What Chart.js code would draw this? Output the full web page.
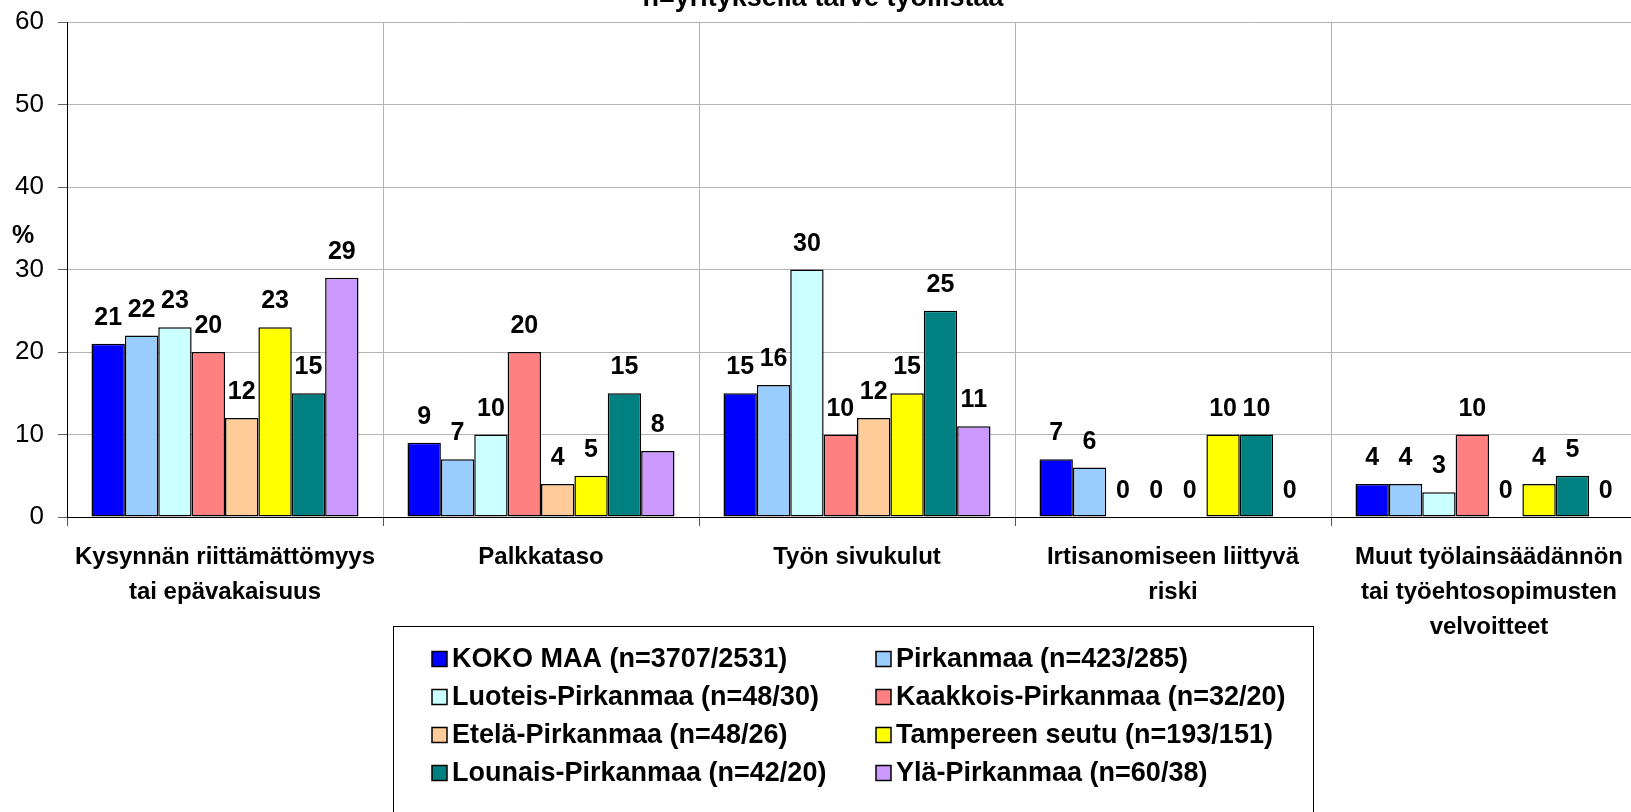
<!DOCTYPE html>
<html><head><meta charset="utf-8">
<script src="https://cdn.jsdelivr.net/npm/chart.js@4.4.1/dist/chart.umd.min.js"></script>
<style>html,body{margin:0;padding:0;overflow:hidden;background:#fff;width:1631px;height:812px}canvas{display:block}</style>
</head><body><canvas id="c" width="1660" height="812" style="width:1660px;height:812px"></canvas>
<script>
const categories = [['Kysynnän riittämättömyys','tai epävakaisuus'],['Palkkataso'],['Työn sivukulut'],['Irtisanomiseen liittyvä','riski'],['Muut työlainsäädännön','tai työehtosopimusten','velvoitteet']];
const seriesNames = ['KOKO MAA (n=3707/2531)','Pirkanmaa (n=423/285)','Luoteis-Pirkanmaa (n=48/30)','Kaakkois-Pirkanmaa (n=32/20)','Etelä-Pirkanmaa (n=48/26)','Tampereen seutu (n=193/151)','Lounais-Pirkanmaa (n=42/20)','Ylä-Pirkanmaa (n=60/38)'];
const kokoMaa   = [21, 9, 15, 7, 4];
const pirkanmaa = [22, 7, 16, 6, 4];
const luoteis   = [23, 10, 30, 0, 3];
const kaakkois  = [20, 20, 10, 0, 10];
const etela     = [12, 4, 12, 0, 0];
const tampere   = [23, 5, 15, 10, 4];
const lounais   = [15, 15, 25, 10, 5];
const yla       = [29, 8, 11, 0, 0];
const yMin = 0, yMax = 60, yStep = 10;
const seriesColors = ['#0000FF','#99CCFF','#CCFFFF','#FF8080','#FFCC99','#FFFF00','#008080','#CC99FF'];
const titleText = 'n=yrityksellä tarve työllistää';
const yUnit = '%';

const seriesValues = [kokoMaa, pirkanmaa, luoteis, kaakkois, etela, tampere, lounais, yla];
const FONT = '"Liberation Sans", Arial, sans-serif';

const datasets = seriesNames.map((name, i) => ({
  label: name,
  data: seriesValues[i],
  backgroundColor: seriesColors[i],
  borderColor: '#000000',
  borderWidth: 1.5,
  borderSkipped: false,
  categoryPercentage: 0.845,
  barPercentage: 1.0
}));

const extras = {
  id: 'extras',
  afterDatasetsDraw(chart) {
    const ctx = chart.ctx;
    ctx.save();
    ctx.fillStyle = '#000';
    ctx.font = 'bold 25px ' + FONT;
    ctx.textAlign = 'center';
    ctx.textBaseline = 'alphabetic';
    chart.data.datasets.forEach((ds, di) => {
      const meta = chart.getDatasetMeta(di);
      meta.data.forEach((el, j) => {
        ctx.fillText(String(ds.data[j]), el.x, el.y - 19);
      });
    });
    ctx.restore();
  },
  afterDraw(chart) {
    const ctx = chart.ctx;
    ctx.save();
    ctx.fillStyle = '#000';
    ctx.font = 'bold 27px ' + FONT;
    ctx.textAlign = 'center';
    ctx.textBaseline = 'alphabetic';
    ctx.fillText(titleText, 823, 6);
    ctx.font = 'bold 25px ' + FONT;
    ctx.textAlign = 'left';
    ctx.fillText(yUnit, 12, 243);
    // legend box
    const bx = 393, by = 626, bw = 920, bh = 220;
    ctx.fillStyle = '#fff';
    ctx.fillRect(bx, by, bw, bh);
    ctx.strokeStyle = '#000';
    ctx.lineWidth = 1;
    ctx.strokeRect(bx + 0.5, by + 0.5, bw, bh);
    ctx.font = 'bold 27px ' + FONT;
    ctx.textBaseline = 'middle';
    const colX = [432, 876];
    const rowY = [659, 697, 735, 773];
    chart.data.datasets.forEach((ds, i) => {
      const x = colX[i % 2], y = rowY[Math.floor(i / 2)];
      ctx.fillStyle = ds.backgroundColor;
      ctx.fillRect(x, y - 7.5, 15, 15);
      ctx.strokeStyle = '#000';
      ctx.lineWidth = 1.5;
      ctx.strokeRect(x, y - 7.5, 15, 15);
      ctx.fillStyle = '#000';
      ctx.fillText(ds.label, x + 20, y + 1);
    });
    ctx.restore();
  }
};

new Chart(document.getElementById('c'), {
  type: 'bar',
  data: { labels: categories, datasets },
  options: {
    responsive: false,
    animation: false,
    devicePixelRatio: 1,
    layout: { padding: { top: 22, right: 13, bottom: 0, left: 0 } },
    plugins: { legend: { display: false }, tooltip: { enabled: false }, title: { display: false } },
    scales: {
      x: {
        grid: { display: true, offset: true, color: '#B4B4B4', lineWidth: 1, drawTicks: true, tickLength: 9, tickColor: '#555' },
        border: { display: true, color: '#000', width: 1 },
        ticks: { color: '#000', font: { family: FONT, size: 24, weight: 'bold', lineHeight: 1.46 }, padding: 14, maxRotation: 0, minRotation: 0, autoSkip: false },
        afterFit(scale) { scale.height = 295; scale.paddingLeft = 0; scale.paddingRight = 0; }
      },
      y: {
        min: yMin, max: yMax,
        grid: { color: '#B4B4B4', lineWidth: 1, drawTicks: true, tickLength: 9, tickColor: '#666' },
        border: { display: true, color: '#000', width: 1 },
        ticks: { stepSize: yStep, color: '#000', font: { family: FONT, size: 26 }, padding: 14 },
        afterFit(scale) { scale.width = 67; scale.paddingTop = 0; scale.paddingBottom = 0; }
      }
    }
  },
  plugins: [extras]
});
</script>
</body></html>
